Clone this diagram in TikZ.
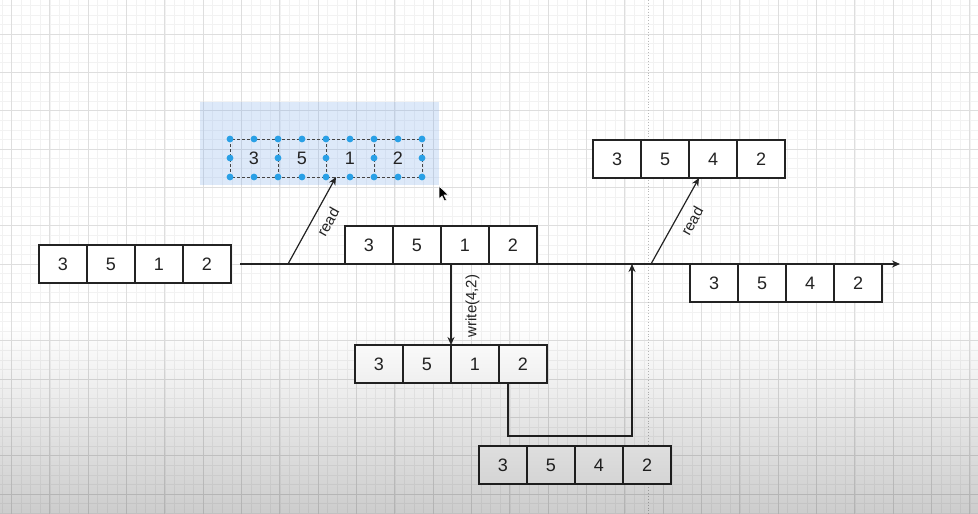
\documentclass[tikz,border=0pt]{standalone}
\usepackage{fontspec}
\setmainfont{Liberation Sans}
\usetikzlibrary{arrows.meta,calc,fadings}
\tikzfading[name=fadedown, top color=transparent!100, bottom color=transparent!0]
\definecolor{gridminor}{RGB}{242,242,242}
\definecolor{gridmajor}{RGB}{222,222,222}
\definecolor{selblue}{RGB}{120,170,235}
\definecolor{dotblue}{RGB}{41,160,230}
\definecolor{ink}{RGB}{35,35,35}
\newcommand\arrayrow[8]{%
  \node[#8] (#1-1) at (#2,#3) {#4};
  \node[#8] (#1-2) at (#1-1.north east) {#5};
  \node[#8] (#1-3) at (#1-2.north east) {#6};
  \node[#8] (#1-4) at (#1-3.north east) {#7};
}
\begin{document}
\begin{tikzpicture}[x=1pt,y=-1pt,
  cell/.style={draw=ink, line width=1.2pt, fill=white, minimum width=48pt, minimum height=38pt,
    inner sep=0pt, outer sep=0pt, anchor=north west, font=\fontsize{18}{21}\selectfont, text=ink},
  selcell/.style={minimum width=48pt, minimum height=38pt, inner sep=0pt, outer sep=0pt,
    anchor=north west, font=\fontsize{18}{21}\selectfont, text=ink},
  seldash/.style={draw=ink!85, line width=0.9pt, dash pattern=on 3pt off 2pt},
  lbl/.style={font=\fontsize{15}{18}\selectfont, inner sep=0pt, text=ink},
  conn/.style={draw=ink, line width=1.2pt},
  tip/.style={-{Stealth[length=8pt,width=7pt]}}]
\useasboundingbox (0,0) rectangle (978,514);
\fill[white] (0,0) rectangle (978,514);
% grid
\foreach \k in {-1,...,101} \draw[gridminor, line width=0.5pt] ({11.5+\k*9.583},0) -- ({11.5+\k*9.583},514);
\foreach \k in {-4,...,50} \draw[gridminor, line width=0.5pt] (0,{34+\k*9.583}) -- (978,{34+\k*9.583});
\foreach \k in {0,...,25} \draw[gridmajor, line width=0.8pt] ({11.5+\k*38.333},0) -- ({11.5+\k*38.333},514);
\foreach \k in {-1,...,12} \draw[gridmajor, line width=0.8pt] (0,{34+\k*38.333}) -- (978,{34+\k*38.333});
% guide line
\draw[gray!55, dotted, line width=0.9pt] (648,0) -- (648,514);
% selection highlight
\fill[selblue, opacity=0.25] (200,102) rectangle (439,185);
% arrays
\arrayrow{A}{39}{245}{3}{5}{1}{2}{cell}
\arrayrow{B}{345}{226}{3}{5}{1}{2}{cell}
\arrayrow{C}{355}{345}{3}{5}{1}{2}{cell}
\arrayrow{D}{479}{446}{3}{5}{4}{2}{cell}
\arrayrow{E}{593}{140}{3}{5}{4}{2}{cell}
\arrayrow{F}{690}{264}{3}{5}{4}{2}{cell}
\arrayrow{S}{230}{139}{3}{5}{1}{2}{selcell}
\draw[seldash] (S-1.north west) rectangle (S-4.south east);
\foreach \c in {2,3,4} \draw[seldash] (S-\c.north west) -- (S-\c.south west);
% selection handles
\foreach \k in {0,...,8} {
  \fill[dotblue] ({230+24*\k},139) circle (3.4pt);
  \fill[dotblue] ({230+24*\k},177) circle (3.4pt);
}
\foreach \k in {0,...,4} \fill[dotblue] ({230+48*\k},158) circle (3.4pt);
% connectors
\coordinate (t0) at (240,264);
\coordinate (t1) at (900,264);
\draw[conn, tip] (t0) -- (t1);
\coordinate (r1s) at (288,264);
\draw[conn, tip] (r1s) -- ($(S-3.south west)+(10,0)$);
\draw[conn, tip] (C-3.north west |- B-3.south) -- (C-3.north west);
\coordinate (m0) at ($(C-4.south west)+(9,0)$);
\coordinate (m1) at (632,436);
\draw[conn, tip] (m0) |- (m1) -- (m1 |- t0);
\coordinate (r2s) at (651,264);
\draw[conn, tip] (r2s) -- ($(E-3.south west)+(10,0)$);
% labels
\node[lbl, rotate=60.8] (rd1) at (328,222) {read};
\node[lbl, rotate=60.8] (rd2) at (692,221) {read};
\node[lbl, rotate=90] (wr) at (472.5,306) {write(4,2)};
% cursor
\fill[black, draw=white, line width=0.6pt] (439,186) -- (439,199) -- (442,196) -- (444.5,201)
  -- (446.5,200) -- (444,195) -- (448.5,195) -- cycle;
% bottom shading overlay
\fill[black, opacity=0.2, path fading=fadedown] (0,325) rectangle (978,514);
\end{tikzpicture}
\end{document}
